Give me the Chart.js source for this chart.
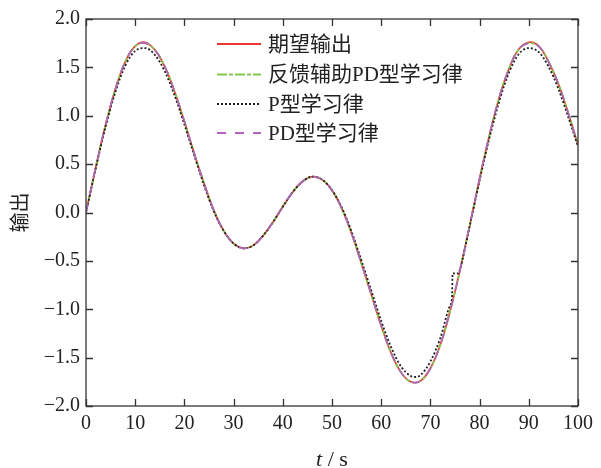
<!DOCTYPE html>
<html>
<head>
    <meta charset="UTF-8">
    <script src="https://cdn.jsdelivr.net/npm/chart.js@4.4.1/dist/chart.umd.min.js"></script>
    <style>
        body {
            margin: 0;
            background: #fff;
        }
    </style>
</head>
<body>

<canvas id="iterChart" width="601" height="468"></canvas>

<script>
// time axis shared by the three smooth curves (s)
const t = [0, 2, 4, 6, 8, 10, 12, 14, 16, 18, 20, 22, 24, 26, 28, 30, 32, 34, 36, 38, 40,
    42, 44, 46, 48, 50, 52, 54, 56, 58, 60, 62, 64, 66, 68, 70, 72, 74, 76, 78, 80,
    82, 84, 86, 88, 90, 92, 94, 96, 98, 100];

// 期望输出
const desired = [0.00, 0.47, 0.91, 1.28, 1.56, 1.72, 1.76, 1.68, 1.51, 1.25, 0.94,
    0.61, 0.30, 0.02, -0.19, -0.32, -0.37, -0.34, -0.24, -0.10, 0.06,
    0.21, 0.32, 0.37, 0.34, 0.23, 0.04, -0.22, -0.53, -0.85, -1.17,
    -1.45, -1.65, -1.75, -1.74, -1.61, -1.37, -1.02, -0.60, -0.13, 0.35,
    0.80, 1.19, 1.49, 1.69, 1.76, 1.72, 1.56, 1.33, 1.03, 0.70];

// 反馈辅助PD型学习律
const fbPD = [0.00, 0.47, 0.91, 1.28, 1.56, 1.72, 1.75, 1.68, 1.51, 1.25, 0.94,
    0.61, 0.30, 0.02, -0.19, -0.32, -0.37, -0.34, -0.24, -0.10, 0.06,
    0.21, 0.32, 0.37, 0.34, 0.23, 0.04, -0.22, -0.53, -0.85, -1.17,
    -1.45, -1.65, -1.75, -1.74, -1.61, -1.37, -1.02, -0.60, -0.13, 0.35,
    0.80, 1.19, 1.49, 1.69, 1.75, 1.72, 1.56, 1.33, 1.03, 0.70];

// PD型学习律
const pdType = [0.00, 0.47, 0.91, 1.28, 1.56, 1.72, 1.75, 1.68, 1.51, 1.25, 0.94,
    0.61, 0.30, 0.02, -0.19, -0.32, -0.37, -0.34, -0.24, -0.10, 0.06,
    0.21, 0.32, 0.37, 0.34, 0.23, 0.04, -0.22, -0.53, -0.85, -1.17,
    -1.45, -1.65, -1.75, -1.74, -1.61, -1.37, -1.02, -0.60, -0.13, 0.35,
    0.80, 1.19, 1.49, 1.69, 1.75, 1.72, 1.56, 1.33, 1.03, 0.69];

// P型学习律 has its own time points (step near t = 74.5)
const tP = [0, 2, 4, 6, 8, 10, 12, 14, 16, 18, 20, 22, 24, 26, 28, 30, 32, 34, 36, 38, 40,
    42, 44, 46, 48, 50, 52, 54, 56, 58, 60, 62, 64, 66, 67, 68, 70, 72, 74, 74.4, 74.5,
    75.7, 76, 78, 80, 82, 84, 86, 88, 90, 92, 94, 96, 98, 100];
const pType = [0.00, 0.46, 0.89, 1.25, 1.52, 1.67, 1.70, 1.63, 1.46, 1.21, 0.91,
    0.59, 0.28, 0.01, -0.19, -0.32, -0.37, -0.34, -0.24, -0.10, 0.06,
    0.21, 0.32, 0.37, 0.34, 0.23, 0.05, -0.20, -0.50, -0.81, -1.12,
    -1.39, -1.59, -1.69, -1.70, -1.68, -1.54, -1.30, -0.96, -0.87, -0.63,
    -0.63, -0.59, -0.14, 0.33, 0.77, 1.15, 1.45, 1.64, 1.70, 1.66,
    1.51, 1.28, 0.99, 0.68];

const xTicks = [0, 10, 20, 30, 40, 50, 60, 70, 80, 90, 100];
const yTicks = [-2.0, -1.5, -1.0, -0.5, 0.0, 0.5, 1.0, 1.5, 2.0];

const serif = "'Liberation Serif', 'Noto Sans CJK SC', serif";

function pts(xs, ys) {
    return xs.map((x, i) => ({ x: x, y: ys[i] }));
}

const series = [
    { label: '期望输出', data: pts(t, desired), borderColor: '#ee3535', borderWidth: 1.7,
      borderDash: [], tension: 0.4, order: 4 },
    { label: '反馈辅助PD型学习律', data: pts(t, fbPD), borderColor: '#82c64c', borderWidth: 1.7,
      borderDash: [10, 2, 4, 2], tension: 0.4, order: 3 },
    { label: 'P型学习律', data: pts(tP, pType), borderColor: '#222222', borderWidth: 1.8,
      borderDash: [2, 2], cubicInterpolationMode: 'monotone', order: 2 },
    { label: 'PD型学习律', data: pts(t, pdType), borderColor: '#b064bd', borderWidth: 1.7,
      borderDash: [9, 9], tension: 0.4, order: 1 }
];

// box, inward ticks, axis titles and legend
const frame = {
    id: 'frame',
    afterDraw(chart) {
        const ctx = chart.ctx;
        const a = chart.chartArea;
        const xs = chart.scales.x, ys = chart.scales.y;
        const tick = 7;
        ctx.save();
        ctx.strokeStyle = '#333';
        ctx.lineWidth = 1.3;
        ctx.setLineDash([]);
        ctx.strokeRect(a.left, a.top, a.right - a.left, a.bottom - a.top);
        ctx.beginPath();
        xTicks.forEach(v => {
            const px = Math.round(xs.getPixelForValue(v)) + 0.5;
            ctx.moveTo(px, a.bottom); ctx.lineTo(px, a.bottom - tick);
            ctx.moveTo(px, a.top); ctx.lineTo(px, a.top + tick);
        });
        yTicks.forEach(v => {
            const py = Math.round(ys.getPixelForValue(v)) + 0.5;
            ctx.moveTo(a.left, py); ctx.lineTo(a.left + tick, py);
            ctx.moveTo(a.right, py); ctx.lineTo(a.right - tick, py);
        });
        ctx.stroke();

        // x title: italic t
        ctx.fillStyle = '#222';
        ctx.textBaseline = 'middle';
        const midX = (a.left + a.right) / 2;
        ctx.font = 'italic 22px ' + serif;
        const wT = ctx.measureText('t').width;
        ctx.font = '22px ' + serif;
        const wRest = ctx.measureText(' / s').width;
        const x0 = midX - (wT + wRest) / 2;
        ctx.textAlign = 'left';
        ctx.font = 'italic 22px ' + serif;
        ctx.fillText('t', x0, 460);
        ctx.font = '22px ' + serif;
        ctx.fillText(' / s', x0 + wT, 460);

        // y title
        ctx.save();
        ctx.translate(22, (a.top + a.bottom) / 2);
        ctx.rotate(-Math.PI / 2);
        ctx.textAlign = 'center';
        ctx.font = '20px ' + serif;
        ctx.fillText('输出', 0, 0);
        ctx.restore();

        // legend
        const rowY = [44, 74.5, 104, 133];
        chart.data.datasets.forEach((ds, i) => {
            const y = rowY[i];
            ctx.beginPath();
            ctx.strokeStyle = ds.borderColor;
            ctx.lineWidth = 2;
            ctx.setLineDash(ds.borderDash);
            ctx.moveTo(217, y); ctx.lineTo(261, y);
            ctx.stroke();
            ctx.setLineDash([]);
            ctx.fillStyle = '#222';
            ctx.font = '21px ' + serif;
            ctx.textAlign = 'left';
            ctx.fillText(ds.label, 268, y + 1);
        });
        ctx.restore();
    }
};

new Chart(document.getElementById('iterChart'), {
    type: 'line',
    data: {
        datasets: series.map(s => Object.assign({ pointRadius: 0, fill: false }, s))
    },
    options: {
        responsive: false,
        animation: false,
        layout: { padding: { left: 0, right: 23, top: 19, bottom: 0 } },
        plugins: {
            legend: { display: false },
            tooltip: { enabled: false }
        },
        scales: {
            x: {
                type: 'linear',
                min: 0,
                max: 100,
                grid: { display: false, drawTicks: false },
                border: { display: false },
                afterFit(scale) { scale.height = 62; },
                afterBuildTicks(scale) { scale.ticks = xTicks.map(v => ({ value: v })); },
                ticks: {
                    padding: 6,
                    color: '#222',
                    font: { family: serif, size: 20 },
                    maxRotation: 0
                }
            },
            y: {
                type: 'linear',
                min: -2,
                max: 2,
                grid: { display: false, drawTicks: false },
                border: { display: false },
                afterFit(scale) { scale.width = 86; },
                afterBuildTicks(scale) { scale.ticks = yTicks.map(v => ({ value: v })); },
                ticks: {
                    padding: 6,
                    color: '#222',
                    font: { family: serif, size: 20 },
                    callback: v => v.toFixed(1).replace('-', '\u2212')
                }
            }
        }
    },
    plugins: [frame]
});
</script>

</body>
</html>
